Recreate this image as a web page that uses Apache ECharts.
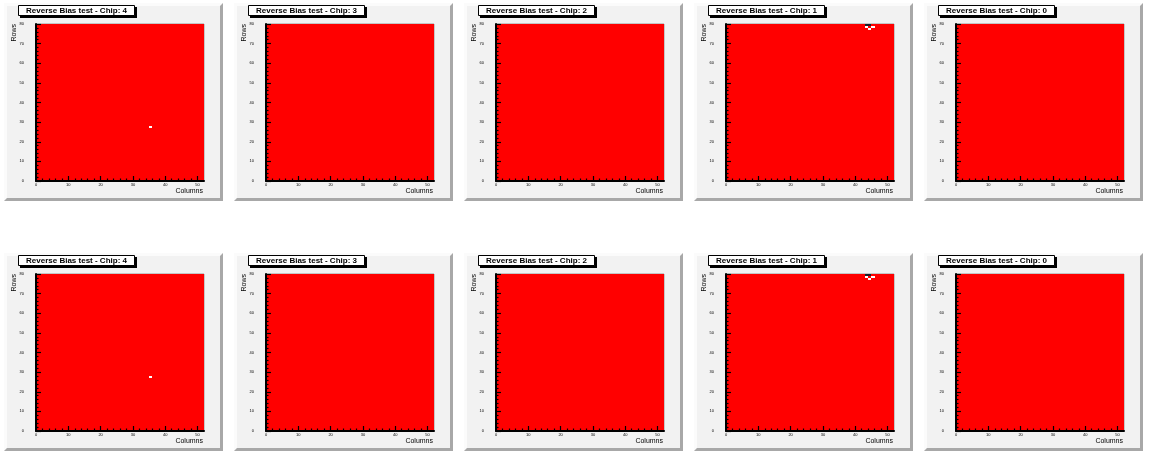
<!DOCTYPE html>
<html><head><meta charset="utf-8">
<script src="https://cdn.jsdelivr.net/npm/echarts@6/dist/echarts.min.js"></script>
<style>html,body{margin:0;padding:0;background:#fff}#c{width:1149px;height:456px}</style>
</head><body><div id="c"></div>
<script>
// ---------------- data ----------------
const chipIds = [4, 3, 2, 1, 0];            // panel order, left to right
const panelRows = [0, 1];                   // two identical rows of panels
const titlePrefix = 'Reverse Bias test - Chip: ';
const xTitle = 'Columns';
const yTitle = 'Rows';
const nColumns = 52;
const nRows = 80;
const xMajorTicks = [0, 10, 20, 30, 40, 50];
const xMinorTicks = [2, 4, 6, 8, 12, 14, 16, 18, 22, 24, 26, 28, 32, 34, 36, 38, 42, 44, 46, 48];
const yTickInterval = 10;
// pixels with no entry (left white), per chip: [column, row]
const emptyPixels = { 4: [[35, 27]], 3: [], 2: [], 1: [[43, 78], [44, 77], [45, 78]], 0: [] };
// pixels with a deviating value, per chip: [column, row]
const oddPixels = { 4: [], 3: [], 2: [], 1: [[43, 79], [44, 79]], 0: [] };
const normalValue = 1;
const oddValue = 2;

// ---------------- styles / layout ----------------
const valueColors = { 1: '#ff0000', 2: '#1e1e2a' };
const FONT = 'Liberation Sans, Arial, Helvetica, sans-serif';
const PITCH_X = 230, PITCH_Y = 250, X0 = 4, Y0 = 3, PAD_W = 219, PAD_H = 198;
const FR_L = 32, FR_T = 21, FR_W = 168, FR_H = 157;
const BEV = 3;

function buildCells(chip) {
  const empty = new Set(emptyPixels[chip].map(p => p[0] + ',' + p[1]));
  const odd = new Set(oddPixels[chip].map(p => p[0] + ',' + p[1]));
  const out = [];
  for (let c = 0; c < nColumns; c++) {
    for (let r = 0; r < nRows; r++) {
      const k = c + ',' + r;
      if (empty.has(k)) continue;
      out.push([c, r, odd.has(k) ? oddValue : normalValue]);
    }
  }
  return out;
}

const grids = [], xAxes = [], yAxes = [], series = [], graphics = [];
let idx = 0;
panelRows.forEach((pr) => {
  chipIds.forEach((chip, pc) => {
    const px = X0 + pc * PITCH_X, py = Y0 + pr * PITCH_Y;
    // pad background with bevel
    graphics.push({ type: 'rect', z: -10, shape: { x: px, y: py, width: PAD_W, height: PAD_H }, style: { fill: '#f2f2f2' }, silent: true });
    graphics.push({ type: 'polygon', z: -9, shape: { points: [[px, py], [px + PAD_W, py], [px + PAD_W - BEV, py + BEV], [px + BEV, py + BEV], [px + BEV, py + PAD_H - BEV], [px, py + PAD_H]] }, style: { fill: '#fbfbfb' }, silent: true });
    graphics.push({ type: 'polygon', z: -9, shape: { points: [[px + PAD_W, py], [px + PAD_W, py + PAD_H], [px, py + PAD_H], [px + BEV, py + PAD_H - BEV], [px + PAD_W - BEV, py + PAD_H - BEV], [px + PAD_W - BEV, py + BEV]] }, style: { fill: '#a8a8a8' }, silent: true });
    // title box: shadow, box, text
    graphics.push({ type: 'rect', z: 20, shape: { x: px + 16, y: py + 4, width: 117, height: 11 }, style: { fill: '#000' }, silent: true });
    graphics.push({ type: 'rect', z: 21, shape: { x: px + 14.5, y: py + 2.5, width: 116, height: 10 }, style: { fill: '#fff', stroke: '#000', lineWidth: 1 }, silent: true });
    graphics.push({ type: 'text', z: 22, x: px + 72.5, y: py + 8, style: { text: titlePrefix + chip, fontSize: 8, fontWeight: 'bold', fontFamily: FONT, fill: '#000', align: 'center', verticalAlign: 'middle' }, silent: true });
    // axis titles
    graphics.push({ type: 'text', z: 5, x: px + 10, y: py + FR_T, rotation: Math.PI / 2, style: { text: yTitle, fontSize: 7, fontFamily: FONT, fill: '#000', align: 'right', verticalAlign: 'middle' }, silent: true });
    graphics.push({ type: 'text', z: 5, x: px + FR_L + FR_W - 1, y: py + 192, style: { text: xTitle, fontSize: 7, fontFamily: FONT, fill: '#000', align: 'right', verticalAlign: 'bottom' }, silent: true });

    grids.push({ left: px + FR_L, top: py + FR_T, width: FR_W, height: FR_H, show: true, backgroundColor: '#fff', borderColor: '#999', borderWidth: 1 });
    xAxes.push({
      gridIndex: idx, type: 'value', min: 0, max: nColumns, position: 'bottom', z: 10,
      axisLine: { show: true, onZero: false, lineStyle: { color: '#000', width: 2 } },
      axisTick: { show: true, inside: true, length: 5, customValues: xMajorTicks, lineStyle: { color: '#000', width: 1.2 } },
      axisLabel: { show: true, customValues: xMajorTicks, fontSize: 4, margin: 2, color: '#000', fontFamily: FONT },
      splitLine: { show: false }
    });
    xAxes.push({
      gridIndex: idx, type: 'value', min: 0, max: nColumns, position: 'bottom', z: 10,
      axisLine: { show: false, onZero: false },
      axisTick: { show: true, inside: true, length: 2.5, customValues: xMinorTicks, lineStyle: { color: '#000', width: 1.2 } },
      axisLabel: { show: false },
      splitLine: { show: false }
    });
    yAxes.push({
      gridIndex: idx, type: 'value', min: 0, max: nRows, interval: yTickInterval, z: 10,
      axisLine: { show: true, onZero: false, lineStyle: { color: '#000', width: 2 } },
      axisTick: { show: true, inside: true, length: 5, lineStyle: { color: '#000', width: 1.2 } },
      minorTick: { show: true, splitNumber: 5, length: 2.5, lineStyle: { color: '#000', width: 1.2 } },
      axisLabel: { show: true, fontSize: 4, margin: 12, color: '#000', fontFamily: FONT },
      splitLine: { show: false }, minorSplitLine: { show: false }
    });
    series.push({
      type: 'custom', coordinateSystem: 'cartesian2d', xAxisIndex: idx * 2, yAxisIndex: idx,
      data: buildCells(chip), encode: { x: 0, y: 1 }, silent: true, animation: false, clip: true, z: 2,
      renderItem(params, api) {
        const c = api.value(0), r = api.value(1), v = api.value(2);
        const p0 = api.coord([c, r + 1]), p1 = api.coord([c + 1, r]);
        const x0 = Math.round(p0[0]), y0 = Math.round(p0[1]);
        const x1 = Math.round(p1[0]), y1 = Math.round(p1[1]);
        return { type: 'rect', shape: { x: x0, y: y0, width: x1 - x0, height: y1 - y0 }, style: { fill: valueColors[v] } };
      }
    });
    idx++;
  });
});

const chart = echarts.init(document.getElementById('c'), null, { renderer: 'canvas' });
chart.setOption({
  backgroundColor: '#fff', animation: false,
  grid: grids, xAxis: xAxes, yAxis: yAxes, series: series,
  graphic: { elements: graphics }
});
</script></body></html>
